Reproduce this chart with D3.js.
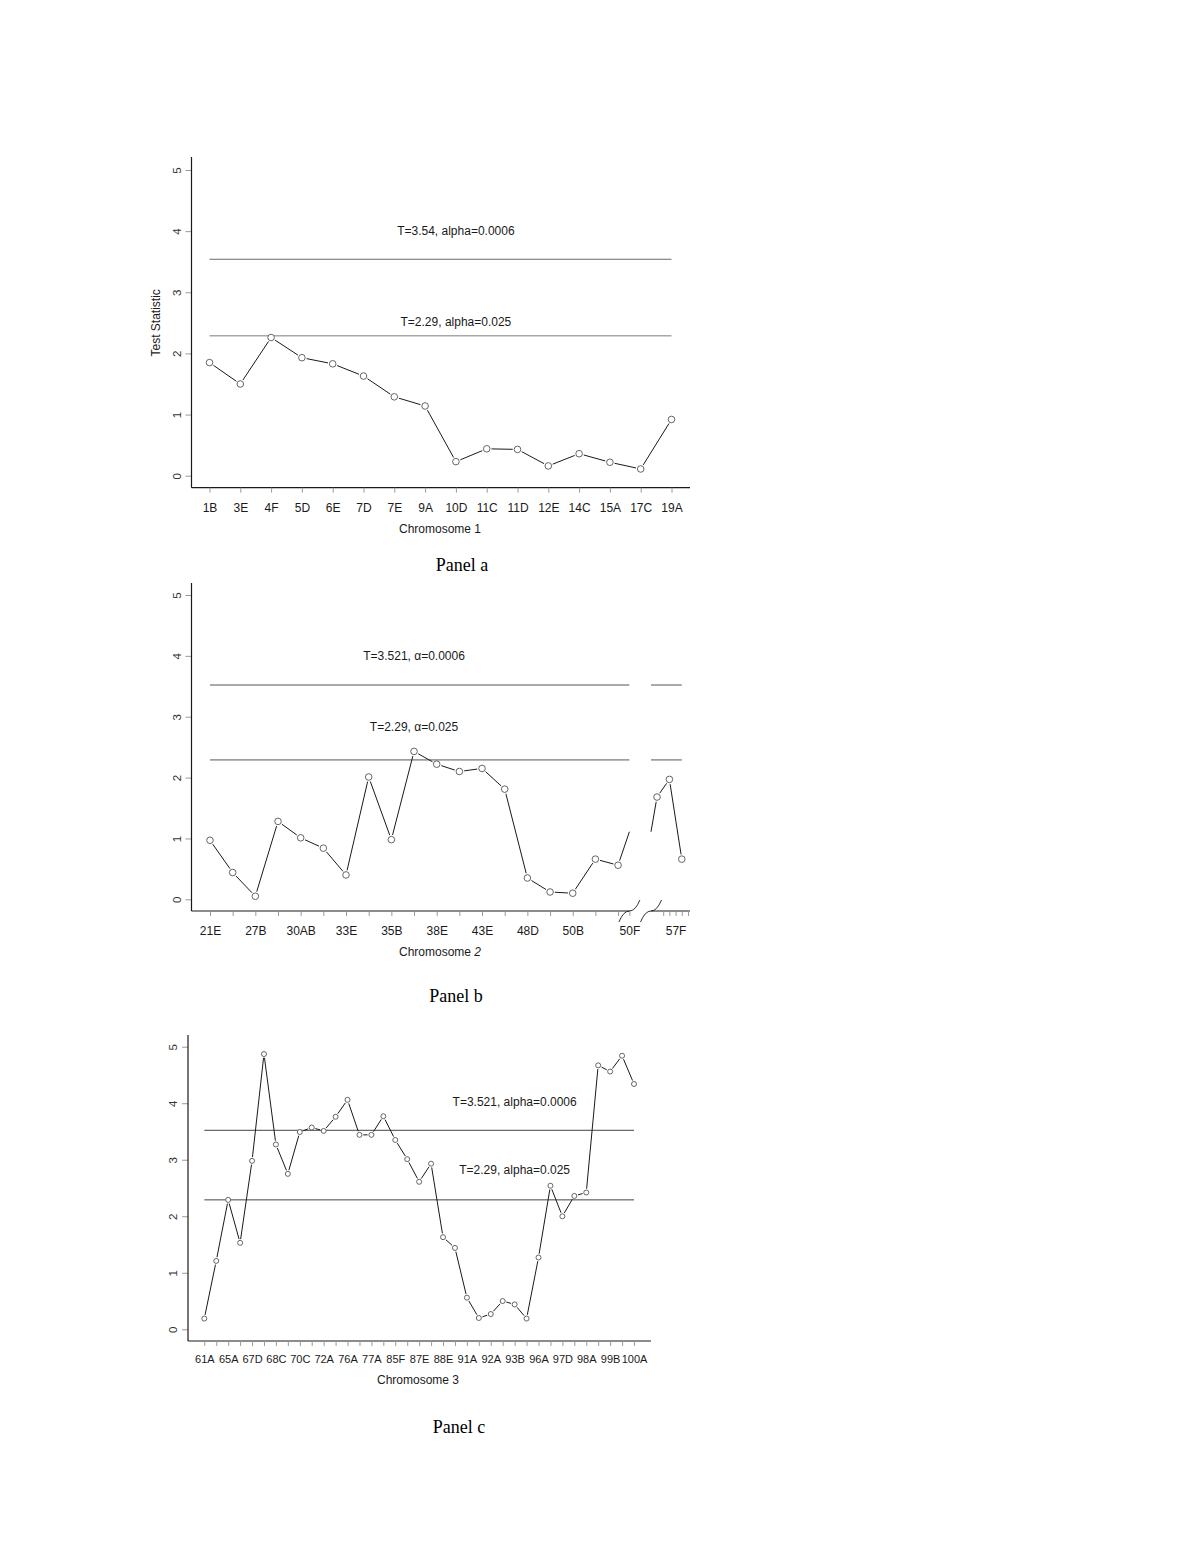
<!DOCTYPE html>
<html>
<head>
<meta charset="utf-8">
<script src="https://cdn.jsdelivr.net/npm/d3@7"></script>
<style>
  body { margin: 0; background: #fff; }
  svg text { font-family: "Liberation Sans", Arial, sans-serif; }
</style>
</head>
<body>
<script>
// ---- data ----
const yTicks = [0, 1, 2, 3, 4, 5];

// Chromosome 1
const aCategories = ['1B', '3E', '4F', '5D', '6E', '7D', '7E', '9A', '10D', '11C', '11D', '12E', '14C', '15A', '17C', '19A'];
const aValues = [1.85, 1.50, 2.26, 1.93, 1.83, 1.63, 1.29, 1.14, 0.23, 0.44, 0.43, 0.16, 0.36, 0.22, 0.11, 0.92];
const aThresholds = [3.54, 2.29];
const aThresholdLabels = ['T=3.54, alpha=0.0006', 'T=2.29, alpha=0.025'];

// Chromosome 2 (axis is broken before the last three markers)
const bLeftValues = [0.97, 0.44, 0.05, 1.28, 1.01, 0.84, 0.40, 2.01, 0.98, 2.43, 2.22, 2.10, 2.15, 1.81, 0.35, 0.12, 0.10, 0.66, 0.56];
const bRightValues = [1.68, 1.97, 0.66];
const bStubValues = [1.11, 1.11];
const bTickLabels = ['21E', '27B', '30AB', '33E', '35B', '38E', '43E', '48D', '50B', '50F', '57F'];
const bThresholds = [3.521, 2.29];
const bThresholdLabels = ['T=3.521, \u03b1=0.0006', 'T=2.29, \u03b1=0.025'];

// Chromosome 3
const cTickLabels = ['61A', '65A', '67D', '68C', '70C', '72A', '76A', '77A', '85F', '87E', '88E', '91A', '92A', '93B', '96A', '97D', '98A', '99B', '100A'];
const cValues = [0.19, 1.21, 2.29, 1.53, 2.98, 4.87, 3.27, 2.75, 3.49, 3.57, 3.51, 3.76, 4.06, 3.44, 3.44, 3.77, 3.35, 3.01, 2.61, 2.93,
  1.63, 1.44, 0.56, 0.20, 0.27, 0.50, 0.44, 0.19, 1.27, 2.54, 2.00, 2.36, 2.42, 4.67, 4.56, 4.84, 4.34];
const cThresholds = [3.521, 2.29];
const cThresholdLabels = ['T=3.521, alpha=0.0006', 'T=2.29, alpha=0.025'];

// ---- drawing ----
const svg = d3.select('body').append('svg')
  .attr('width', 1198)
  .attr('height', 1551);

const INK = '#1a1a1a';
const TICK = '#9a9a9a';
const FS = '12px';

function yAxis(y, axisX, top, bottom, withTitle) {
  const g = svg.append('g')
    .attr('transform', `translate(${axisX},0)`)
    .call(d3.axisLeft(y).tickValues(yTicks).tickSize(6).tickFormat(d3.format('d')));
  g.attr('font-family', null).attr('font-size', null);
  g.select('.domain').remove();
  g.selectAll('.tick line').attr('stroke', TICK);
  g.selectAll('.tick text')
    .attr('x', 0).attr('dy', null)
    .attr('transform', 'translate(-11,0) rotate(-90)')
    .attr('text-anchor', 'middle')
    .attr('fill', '#333')
    .style('font-size', '11.5px');
  svg.append('line')
    .attr('x1', axisX).attr('x2', axisX)
    .attr('y1', top).attr('y2', bottom)
    .attr('stroke', INK).attr('stroke-width', 1.2);
  if (withTitle) {
    const cy = (y(0) + y(5)) / 2;
    svg.append('text')
      .attr('transform', `translate(${axisX - 32},${cy}) rotate(-90)`)
      .attr('text-anchor', 'middle')
      .style('font-size', FS)
      .attr('fill', INK)
      .text('Test Statistic');
  }
}

function xAxis(x, axisY, values, format, labelOffset, size) {
  const g = svg.append('g')
    .attr('transform', `translate(0,${axisY})`)
    .call(d3.axisBottom(x).tickValues(values).tickSize(5).tickFormat(format));
  g.attr('font-family', null).attr('font-size', null);
  g.select('.domain').remove();
  g.selectAll('.tick line').attr('stroke', TICK);
  g.selectAll('.tick text')
    .attr('y', labelOffset).attr('dy', null)
    .attr('fill', INK)
    .style('font-size', size || FS);
}

function axisLine(x1, x2, yPos) {
  svg.append('line')
    .attr('x1', x1).attr('x2', x2)
    .attr('y1', yPos).attr('y2', yPos)
    .attr('stroke', INK).attr('stroke-width', 1.2);
}

// connect points R "type b" style: the line stops short of each marker
function gappedLine(pts, x, y, gap) {
  const g = svg.append('g');
  for (let i = 1; i < pts.length; i++) {
    const p = pts[i - 1], q = pts[i];
    const x1 = x(p.x), y1 = y(p.y), x2 = x(q.x), y2 = y(q.y);
    const len = Math.hypot(x2 - x1, y2 - y1);
    const s = p.marker ? gap : 0, e = q.marker ? gap : 0;
    if (len <= s + e) continue;
    const ux = (x2 - x1) / len, uy = (y2 - y1) / len;
    g.append('line')
      .attr('x1', x1 + ux * s).attr('y1', y1 + uy * s)
      .attr('x2', x2 - ux * e).attr('y2', y2 - uy * e)
      .attr('stroke', INK).attr('stroke-width', 1);
  }
}

function markers(pts, x, y, r) {
  svg.append('g').selectAll('circle')
    .data(pts.filter(d => d.marker))
    .enter().append('circle')
    .attr('cx', d => x(d.x))
    .attr('cy', d => y(d.y))
    .attr('r', r)
    .attr('fill', '#fff')
    .attr('stroke', '#555')
    .attr('stroke-width', 0.9);
}

function threshold(x1, x2, yPos, color, width) {
  svg.append('line')
    .attr('x1', x1).attr('x2', x2)
    .attr('y1', yPos).attr('y2', yPos)
    .attr('stroke', color).attr('stroke-width', width);
}

function note(xPos, yPos, txt) {
  svg.append('text')
    .attr('x', xPos).attr('y', yPos)
    .attr('text-anchor', 'middle')
    .style('font-size', FS)
    .attr('fill', INK)
    .text(txt);
}

function caption(xPos, yPos, parts) {
  const t = svg.append('text')
    .attr('x', xPos).attr('y', yPos)
    .attr('text-anchor', 'middle')
    .style('font-size', FS)
    .attr('fill', INK);
  parts.forEach(p => t.append('tspan').style('font-style', p.italic ? 'italic' : null).text(p.text));
}

function panelTitle(xPos, yPos, txt) {
  svg.append('text')
    .attr('x', xPos).attr('y', yPos)
    .attr('text-anchor', 'middle')
    .style('font-family', '"Liberation Serif", "Times New Roman", serif')
    .style('font-size', '18px')
    .attr('fill', '#000')
    .text(txt);
}

// ---------- Panel a ----------
{
  const x = d3.scalePoint().domain(d3.range(aCategories.length)).range([209.5, 671.5]);
  const y = d3.scaleLinear().domain([0, 5]).range([475.7, 170]);
  const axisY = 487.7;
  yAxis(y, 191.5, 157, axisY, true);
  axisLine(191.5, 690, axisY);
  xAxis(x, axisY, d3.range(aCategories.length), i => aCategories[i], 24);

  threshold(x(0), x(aCategories.length - 1), y(aThresholds[0]), '#6a6a6a', 1);
  threshold(x(0), x(aCategories.length - 1), y(aThresholds[1]), '#a8a8a8', 1.6);
  note(x(8), y(3.94), aThresholdLabels[0]);
  note(x(8), y(2.45), aThresholdLabels[1]);

  const pts = aValues.map((v, i) => ({ x: i, y: v, marker: true }));
  gappedLine(pts, x, y, 4.8);
  markers(pts, x, y, 3.3);

  caption(440, 533, [{ text: 'Chromosome 1' }]);
  panelTitle(462, 571, 'Panel a');
}

// ---------- Panel b ----------
{
  // piecewise scale: wide spacing before the break, narrow after it
  const x = d3.scaleLinear().domain([0, 18.5, 19.2, 19.5, 24.5]).range([210, 629.4, 651, 657, 688]);
  const y = d3.scaleLinear().domain([0, 5]).range([899.3, 595]);
  const axisY = 911;
  yAxis(y, 191.5, 583, axisY, false);
  axisLine(191.5, x(18.5), axisY);
  axisLine(x(19.2), 690, axisY);

  const labelSlots = [0, 2, 4, 6, 8, 10, 12, 14, 16, 18.5, 22.5];
  const tickVals = d3.range(19).concat([18.5, 20.5, 21.5, 22.5, 23.5, 24.5]);
  xAxis(x, axisY, tickVals, v => {
    const k = labelSlots.indexOf(v);
    return k >= 0 ? bTickLabels[k] : '';
  }, 24);

  // break marks on the axis
  [18.5, 19.2].forEach(v => {
    const cx = x(v);
    svg.append('path')
      .attr('d', `M${cx - 10.5},${axisY + 11} Q${cx - 6},${axisY} ${cx},${axisY} Q${cx + 6},${axisY} ${cx + 10.5},${axisY - 11}`)
      .attr('fill', 'none')
      .attr('stroke', INK)
      .attr('stroke-width', 0.9);
  });

  bThresholds.forEach(t => {
    threshold(x(0), x(18.5), y(t), '#555', 1);
    threshold(x(19.2), x(23.5), y(t), '#555', 1);
  });
  note(x(9), y(3.93), bThresholdLabels[0]);
  note(x(9), y(2.77), bThresholdLabels[1]);

  const left = bLeftValues.map((v, i) => ({ x: i, y: v, marker: true }))
    .concat([{ x: 18.5, y: bStubValues[0], marker: false }]);
  const right = [{ x: 19.2, y: bStubValues[1], marker: false }]
    .concat(bRightValues.map((v, k) => ({ x: 19.5 + 2 * k, y: v, marker: true })));
  gappedLine(left, x, y, 4.8);
  gappedLine(right, x, y, 4.8);
  markers(left, x, y, 3.3);
  markers(right, x, y, 3.3);

  caption(440, 956, [{ text: 'Chromosome ' }, { text: '2', italic: true }]);
  panelTitle(456, 1002, 'Panel b');
}

// ---------- Panel c ----------
{
  const x = d3.scaleLinear().domain([0, cValues.length - 1]).range([204.3, 634]);
  const y = d3.scaleLinear().domain([0, 5]).range([1329.3, 1046.7]);
  const axisY = 1341;
  yAxis(y, 188, 1035, axisY, false);
  axisLine(188, 651, axisY);
  xAxis(x, axisY, d3.range(cValues.length), i => (i % 2 === 0 ? cTickLabels[i / 2] : ''), 22, '11px');

  cThresholds.forEach(t => threshold(x(0), x(cValues.length - 1), y(t), '#444', 1));
  note(x(26), y(3.95), cThresholdLabels[0]);
  note(x(26), y(2.75), cThresholdLabels[1]);

  const pts = cValues.map((v, i) => ({ x: i, y: v, marker: true }));
  gappedLine(pts, x, y, 3.8);
  markers(pts, x, y, 2.5);

  caption(418, 1384, [{ text: 'Chromosome 3' }]);
  panelTitle(459, 1433, 'Panel c');
}
</script>
</body>
</html>
